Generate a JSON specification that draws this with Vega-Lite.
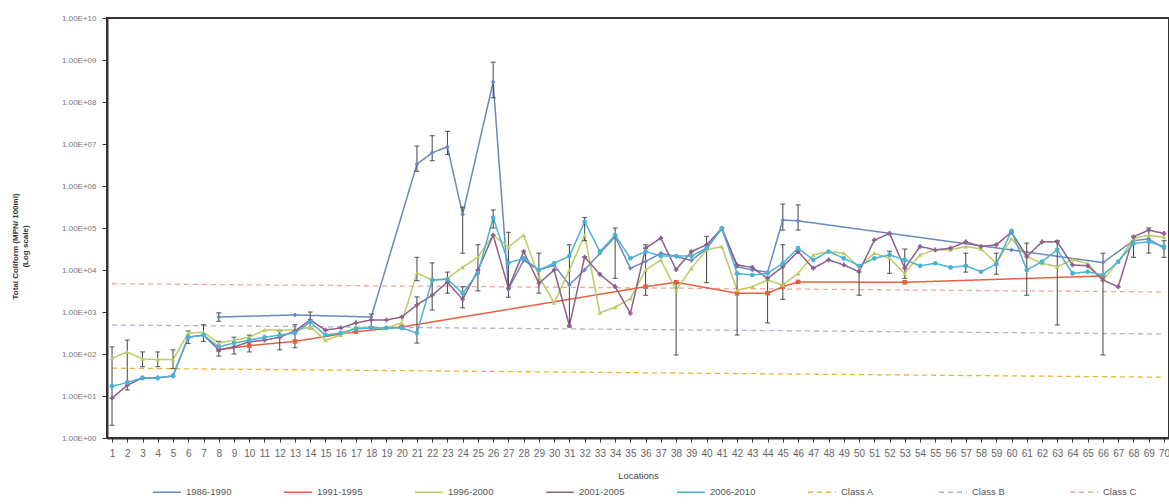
{
"$schema": "https://vega.github.io/schema/vega-lite/v6.json",
"width": 1062, "height": 420,
"autosize": {"type": "none"},
"padding": {"left": 107, "top": 18, "right": 0, "bottom": 66},
"background": "white",
"config": {"view": {"stroke": "#333", "strokeWidth": 2}, "font": "Liberation Sans Narrow, Liberation Sans, sans-serif"},
"datasets": {
"classes": [
{"loc":1,"period":"Class A","tc":46},{"loc":70,"period":"Class A","tc":28},
{"loc":1,"period":"Class B","tc":490},{"loc":70,"period":"Class B","tc":300},
{"loc":1,"period":"Class C","tc":4700},{"loc":70,"period":"Class C","tc":3000}
],
"series": [
{"loc":8,"period":"1986-1990","tc":760,"lo":600,"hi":955},
{"loc":13,"period":"1986-1990","tc":850},
{"loc":18,"period":"1986-1990","tc":760},
{"loc":21,"period":"1986-1990","tc":3300000,"lo":2240000,"hi":8900000},
{"loc":22,"period":"1986-1990","tc":6200000,"lo":4000000,"hi":15800000},
{"loc":23,"period":"1986-1990","tc":8500000,"lo":5600000,"hi":20000000},
{"loc":24,"period":"1986-1990","tc":210000,"lo":25000,"hi":316000},
{"loc":26,"period":"1986-1990","tc":300000000,"lo":126000000,"hi":890000000},
{"loc":27,"period":"1986-1990","tc":3500},
{"loc":28,"period":"1986-1990","tc":17000},
{"loc":29,"period":"1986-1990","tc":10000},
{"loc":30,"period":"1986-1990","tc":13000},
{"loc":31,"period":"1986-1990","tc":4400},
{"loc":32,"period":"1986-1990","tc":10000},
{"loc":33,"period":"1986-1990","tc":25000},
{"loc":34,"period":"1986-1990","tc":62000,"lo":6300,"hi":100000},
{"loc":35,"period":"1986-1990","tc":11000},
{"loc":36,"period":"1986-1990","tc":16000},
{"loc":37,"period":"1986-1990","tc":25000},
{"loc":38,"period":"1986-1990","tc":21000},
{"loc":39,"period":"1986-1990","tc":17000},
{"loc":40,"period":"1986-1990","tc":32000},
{"loc":41,"period":"1986-1990","tc":98000},
{"loc":42,"period":"1986-1990","tc":12000},
{"loc":43,"period":"1986-1990","tc":10000},
{"loc":44,"period":"1986-1990","tc":8900},
{"loc":45,"period":"1986-1990","tc":155000,"lo":89000,"hi":370000},
{"loc":46,"period":"1986-1990","tc":148000,"lo":89000,"hi":355000},
{"loc":60,"period":"1986-1990","tc":30000},
{"loc":66,"period":"1986-1990","tc":15000},
{"loc":68,"period":"1986-1990","tc":50000},
{"loc":69,"period":"1986-1990","tc":55000},
{"loc":70,"period":"1986-1990","tc":33000},

{"loc":8,"period":"1991-1995","tc":126},
{"loc":10,"period":"1991-1995","tc":158},
{"loc":13,"period":"1991-1995","tc":200},
{"loc":17,"period":"1991-1995","tc":340},
{"loc":20,"period":"1991-1995","tc":440},
{"loc":36,"period":"1991-1995","tc":4000},
{"loc":38,"period":"1991-1995","tc":5100},
{"loc":42,"period":"1991-1995","tc":2800},
{"loc":44,"period":"1991-1995","tc":2800},
{"loc":45,"period":"1991-1995","tc":4000},
{"loc":46,"period":"1991-1995","tc":5200},
{"loc":53,"period":"1991-1995","tc":5100},
{"loc":66,"period":"1991-1995","tc":7200,"lo":95,"hi":25000},

{"loc":1,"period":"1996-2000","tc":79},
{"loc":2,"period":"1996-2000","tc":112},
{"loc":3,"period":"1996-2000","tc":76,"lo":50,"hi":112},
{"loc":4,"period":"1996-2000","tc":74,"lo":50,"hi":112},
{"loc":5,"period":"1996-2000","tc":74,"lo":45,"hi":126},
{"loc":6,"period":"1996-2000","tc":316},
{"loc":7,"period":"1996-2000","tc":331},
{"loc":8,"period":"1996-2000","tc":182},
{"loc":9,"period":"1996-2000","tc":214},
{"loc":10,"period":"1996-2000","tc":251},
{"loc":11,"period":"1996-2000","tc":372},
{"loc":12,"period":"1996-2000","tc":372},
{"loc":13,"period":"1996-2000","tc":372},
{"loc":14,"period":"1996-2000","tc":437},
{"loc":15,"period":"1996-2000","tc":214},
{"loc":16,"period":"1996-2000","tc":282},
{"loc":17,"period":"1996-2000","tc":437},
{"loc":18,"period":"1996-2000","tc":417},
{"loc":19,"period":"1996-2000","tc":417},
{"loc":20,"period":"1996-2000","tc":550},
{"loc":21,"period":"1996-2000","tc":8500,"lo":5600,"hi":20000},
{"loc":22,"period":"1996-2000","tc":5750},
{"loc":23,"period":"1996-2000","tc":6300},
{"loc":24,"period":"1996-2000","tc":11700},
{"loc":25,"period":"1996-2000","tc":20400,"lo":3200,"hi":40000},
{"loc":26,"period":"1996-2000","tc":67600},
{"loc":27,"period":"1996-2000","tc":35500},
{"loc":28,"period":"1996-2000","tc":67600},
{"loc":29,"period":"1996-2000","tc":6900},
{"loc":30,"period":"1996-2000","tc":1660},
{"loc":31,"period":"1996-2000","tc":10000},
{"loc":32,"period":"1996-2000","tc":67600},
{"loc":33,"period":"1996-2000","tc":955},
{"loc":34,"period":"1996-2000","tc":1300},
{"loc":35,"period":"1996-2000","tc":2090},
{"loc":36,"period":"1996-2000","tc":10000},
{"loc":37,"period":"1996-2000","tc":17400},
{"loc":38,"period":"1996-2000","tc":3300,"lo":95,"hi":5000},
{"loc":39,"period":"1996-2000","tc":11000},
{"loc":40,"period":"1996-2000","tc":30200},
{"loc":41,"period":"1996-2000","tc":36300},
{"loc":42,"period":"1996-2000","tc":3300,"lo":282,"hi":8000},
{"loc":43,"period":"1996-2000","tc":4000},
{"loc":44,"period":"1996-2000","tc":5750,"lo":550,"hi":6300},
{"loc":45,"period":"1996-2000","tc":4400},
{"loc":46,"period":"1996-2000","tc":8300},
{"loc":47,"period":"1996-2000","tc":22900},
{"loc":48,"period":"1996-2000","tc":27500},
{"loc":49,"period":"1996-2000","tc":25100},
{"loc":50,"period":"1996-2000","tc":12000,"lo":2500,"hi":12600},
{"loc":51,"period":"1996-2000","tc":25100},
{"loc":52,"period":"1996-2000","tc":19000},
{"loc":53,"period":"1996-2000","tc":8300},
{"loc":54,"period":"1996-2000","tc":22900},
{"loc":55,"period":"1996-2000","tc":30200},
{"loc":56,"period":"1996-2000","tc":30200},
{"loc":57,"period":"1996-2000","tc":36300},
{"loc":58,"period":"1996-2000","tc":31600},
{"loc":59,"period":"1996-2000","tc":14500,"lo":7900,"hi":25100},
{"loc":60,"period":"1996-2000","tc":56200},
{"loc":61,"period":"1996-2000","tc":20900},
{"loc":62,"period":"1996-2000","tc":14500},
{"loc":63,"period":"1996-2000","tc":12000},
{"loc":64,"period":"1996-2000","tc":17800},
{"loc":65,"period":"1996-2000","tc":14100},
{"loc":66,"period":"1996-2000","tc":5750},
{"loc":67,"period":"1996-2000","tc":15800},
{"loc":68,"period":"1996-2000","tc":56200,"lo":20000,"hi":63000},
{"loc":69,"period":"1996-2000","tc":67600},
{"loc":70,"period":"1996-2000","tc":60000},

{"loc":1,"period":"2001-2005","tc":8.9,"lo":2,"hi":148},
{"loc":2,"period":"2001-2005","tc":18},
{"loc":3,"period":"2001-2005","tc":27},
{"loc":4,"period":"2001-2005","tc":27},
{"loc":5,"period":"2001-2005","tc":30},
{"loc":6,"period":"2001-2005","tc":251},
{"loc":7,"period":"2001-2005","tc":282,"lo":200,"hi":500},
{"loc":8,"period":"2001-2005","tc":126,"lo":89,"hi":200},
{"loc":9,"period":"2001-2005","tc":148,"lo":100,"hi":251},
{"loc":10,"period":"2001-2005","tc":195,"lo":112,"hi":282},
{"loc":11,"period":"2001-2005","tc":214},
{"loc":12,"period":"2001-2005","tc":251,"lo":126,"hi":355},
{"loc":13,"period":"2001-2005","tc":355,"lo":141,"hi":500},
{"loc":14,"period":"2001-2005","tc":646,"lo":398,"hi":1000},
{"loc":15,"period":"2001-2005","tc":372},
{"loc":16,"period":"2001-2005","tc":417},
{"loc":17,"period":"2001-2005","tc":550},
{"loc":18,"period":"2001-2005","tc":646,"lo":447,"hi":891},
{"loc":19,"period":"2001-2005","tc":646},
{"loc":20,"period":"2001-2005","tc":760},
{"loc":21,"period":"2001-2005","tc":1480,"lo":182,"hi":2290},
{"loc":22,"period":"2001-2005","tc":2500},
{"loc":23,"period":"2001-2005","tc":5130,"lo":2800,"hi":8900},
{"loc":24,"period":"2001-2005","tc":2000,"lo":1260,"hi":4000},
{"loc":25,"period":"2001-2005","tc":10000},
{"loc":26,"period":"2001-2005","tc":67600},
{"loc":27,"period":"2001-2005","tc":3700,"lo":2240,"hi":79000},
{"loc":28,"period":"2001-2005","tc":27500},
{"loc":29,"period":"2001-2005","tc":4800,"lo":2800,"hi":25100},
{"loc":30,"period":"2001-2005","tc":10000},
{"loc":31,"period":"2001-2005","tc":470,"lo":440,"hi":40000},
{"loc":32,"period":"2001-2005","tc":20400},
{"loc":33,"period":"2001-2005","tc":7900},
{"loc":34,"period":"2001-2005","tc":4000},
{"loc":35,"period":"2001-2005","tc":930},
{"loc":36,"period":"2001-2005","tc":33100,"lo":2500,"hi":40000},
{"loc":37,"period":"2001-2005","tc":57500},
{"loc":38,"period":"2001-2005","tc":10200},
{"loc":39,"period":"2001-2005","tc":27500},
{"loc":40,"period":"2001-2005","tc":39800,"lo":5000,"hi":63000},
{"loc":41,"period":"2001-2005","tc":97700},
{"loc":42,"period":"2001-2005","tc":13200},
{"loc":43,"period":"2001-2005","tc":11500},
{"loc":44,"period":"2001-2005","tc":6300},
{"loc":45,"period":"2001-2005","tc":12000,"lo":2000,"hi":40000},
{"loc":46,"period":"2001-2005","tc":27500},
{"loc":47,"period":"2001-2005","tc":11000},
{"loc":48,"period":"2001-2005","tc":17400},
{"loc":49,"period":"2001-2005","tc":13200},
{"loc":50,"period":"2001-2005","tc":9100},
{"loc":51,"period":"2001-2005","tc":51300},
{"loc":52,"period":"2001-2005","tc":74100},
{"loc":53,"period":"2001-2005","tc":11000,"lo":6300,"hi":31600},
{"loc":54,"period":"2001-2005","tc":36300},
{"loc":55,"period":"2001-2005","tc":30200},
{"loc":56,"period":"2001-2005","tc":33100},
{"loc":57,"period":"2001-2005","tc":46800},
{"loc":58,"period":"2001-2005","tc":36300},
{"loc":59,"period":"2001-2005","tc":39800},
{"loc":60,"period":"2001-2005","tc":79400},
{"loc":61,"period":"2001-2005","tc":20900,"lo":2500,"hi":43700},
{"loc":62,"period":"2001-2005","tc":46800},
{"loc":63,"period":"2001-2005","tc":46800,"lo":490,"hi":50000},
{"loc":64,"period":"2001-2005","tc":13200},
{"loc":65,"period":"2001-2005","tc":12600},
{"loc":66,"period":"2001-2005","tc":5750},
{"loc":67,"period":"2001-2005","tc":4000},
{"loc":68,"period":"2001-2005","tc":61700},
{"loc":69,"period":"2001-2005","tc":89100,"lo":25100,"hi":100000},
{"loc":70,"period":"2001-2005","tc":74100},

{"loc":1,"period":"2006-2010","tc":17},
{"loc":2,"period":"2006-2010","tc":21,"lo":14,"hi":214},
{"loc":3,"period":"2006-2010","tc":27},
{"loc":4,"period":"2006-2010","tc":27},
{"loc":5,"period":"2006-2010","tc":30},
{"loc":6,"period":"2006-2010","tc":251,"lo":178,"hi":355},
{"loc":7,"period":"2006-2010","tc":282},
{"loc":8,"period":"2006-2010","tc":148},
{"loc":9,"period":"2006-2010","tc":182},
{"loc":10,"period":"2006-2010","tc":214},
{"loc":11,"period":"2006-2010","tc":251},
{"loc":12,"period":"2006-2010","tc":282},
{"loc":13,"period":"2006-2010","tc":316},
{"loc":14,"period":"2006-2010","tc":575},
{"loc":15,"period":"2006-2010","tc":282},
{"loc":16,"period":"2006-2010","tc":316},
{"loc":17,"period":"2006-2010","tc":398},
{"loc":18,"period":"2006-2010","tc":417},
{"loc":19,"period":"2006-2010","tc":417},
{"loc":20,"period":"2006-2010","tc":417},
{"loc":21,"period":"2006-2010","tc":316},
{"loc":22,"period":"2006-2010","tc":5750,"lo":1120,"hi":14800},
{"loc":23,"period":"2006-2010","tc":6000},
{"loc":24,"period":"2006-2010","tc":2800},
{"loc":25,"period":"2006-2010","tc":8500},
{"loc":26,"period":"2006-2010","tc":174000,"lo":100000,"hi":269000},
{"loc":27,"period":"2006-2010","tc":14800},
{"loc":28,"period":"2006-2010","tc":19000},
{"loc":29,"period":"2006-2010","tc":10000},
{"loc":30,"period":"2006-2010","tc":14500},
{"loc":31,"period":"2006-2010","tc":21400},
{"loc":32,"period":"2006-2010","tc":141000,"lo":50000,"hi":178000},
{"loc":33,"period":"2006-2010","tc":27500},
{"loc":34,"period":"2006-2010","tc":67600},
{"loc":35,"period":"2006-2010","tc":19000},
{"loc":36,"period":"2006-2010","tc":27500},
{"loc":37,"period":"2006-2010","tc":21400},
{"loc":38,"period":"2006-2010","tc":21400},
{"loc":39,"period":"2006-2010","tc":21400},
{"loc":40,"period":"2006-2010","tc":33100},
{"loc":41,"period":"2006-2010","tc":97700},
{"loc":42,"period":"2006-2010","tc":8300},
{"loc":43,"period":"2006-2010","tc":7600},
{"loc":44,"period":"2006-2010","tc":8300},
{"loc":45,"period":"2006-2010","tc":14500},
{"loc":46,"period":"2006-2010","tc":33100},
{"loc":47,"period":"2006-2010","tc":17400},
{"loc":48,"period":"2006-2010","tc":27500},
{"loc":49,"period":"2006-2010","tc":19000},
{"loc":50,"period":"2006-2010","tc":12600},
{"loc":51,"period":"2006-2010","tc":19000},
{"loc":52,"period":"2006-2010","tc":22900,"lo":8300,"hi":28000},
{"loc":53,"period":"2006-2010","tc":17400},
{"loc":54,"period":"2006-2010","tc":12600},
{"loc":55,"period":"2006-2010","tc":14500},
{"loc":56,"period":"2006-2010","tc":11500},
{"loc":57,"period":"2006-2010","tc":12600,"lo":8900,"hi":25100},
{"loc":58,"period":"2006-2010","tc":9100},
{"loc":59,"period":"2006-2010","tc":13800},
{"loc":60,"period":"2006-2010","tc":85100},
{"loc":61,"period":"2006-2010","tc":10000},
{"loc":62,"period":"2006-2010","tc":15800},
{"loc":63,"period":"2006-2010","tc":30200},
{"loc":64,"period":"2006-2010","tc":8300},
{"loc":65,"period":"2006-2010","tc":9100},
{"loc":66,"period":"2006-2010","tc":7600},
{"loc":67,"period":"2006-2010","tc":15800},
{"loc":68,"period":"2006-2010","tc":42700},
{"loc":69,"period":"2006-2010","tc":46800},
{"loc":70,"period":"2006-2010","tc":36300,"lo":20000,"hi":50000}
]
},
"encoding": {
"x": {"field": "loc", "type": "ordinal",
 "scale": {"type": "point", "padding": 0.33, "domain": [1,2,3,4,5,6,7,8,9,10,11,12,13,14,15,16,17,18,19,20,21,22,23,24,25,26,27,28,29,30,31,32,33,34,35,36,37,38,39,40,41,42,43,44,45,46,47,48,49,50,51,52,53,54,55,56,57,58,59,60,61,62,63,64,65,66,67,68,69,70]},
 "axis": {"title": "Locations", "labelAngle": 0, "labelFontSize": 10, "labelColor": "#666", "labelPadding": 6, "labelOverlap": false, "tickSize": 4, "tickColor": "#333", "domainColor": "#333", "domainWidth": 2, "titleFontSize": 9.5, "titleColor": "#444", "titleFontWeight": "normal", "titlePadding": 12}
}
},
"layer": [
{"data": {"name": "classes"},
 "mark": {"type": "line", "strokeWidth": 1.3},
 "encoding": {
  "y": {"field": "tc", "type": "quantitative", "scale": {"type": "log", "domain": [1, 10000000000], "nice": false},
   "axis": {"values": [1,10,100,1000,10000,100000,1000000,10000000,100000000,1000000000,10000000000],
    "labelExpr": "'1.00E+' + (round(log(datum.value)/LN10) < 10 ? '0' : '') + round(log(datum.value)/LN10)",
    "grid": false, "tickSize": 5, "labelPadding": 6, "labelFontSize": 8, "labelColor": "#777", "tickColor": "#333", "domainColor": "#333", "domainWidth": 2,
    "title": ["Total Coliform (MPN/ 100ml)", "(Log scale)"], "titleFontSize": 8, "titleColor": "#333", "titleFontWeight": "bold", "titleX": -96, "titleY": 228, "titleBaseline": "top", "titleAngle": -90}},
  "color": {"field": "period", "type": "nominal",
   "scale": {"domain": ["1986-1990","1991-1995","1996-2000","2001-2005","2006-2010","Class A","Class B","Class C"],
    "range": ["#6A88C0","#E8603F","#BDCB63","#8E5E8C","#4AB2D4","#F2B030","#A9B3DA","#F2A898"]},
   "legend": {"orient": "none", "legendX": 45, "legendY": 459, "direction": "horizontal", "columns": 8, "title": null,
    "symbolType": "stroke", "symbolSize": 784, "symbolStrokeWidth": 1.5, "labelFontSize": 9.5, "labelColor": "#555", "labelOffset": 4, "columnPadding": 49, "gridAlign": "all"}},
  "strokeDash": {"field": "period", "type": "nominal",
   "scale": {"domain": ["1986-1990","1991-1995","1996-2000","2001-2005","2006-2010","Class A","Class B","Class C"],
    "range": [[1,0],[1,0],[1,0],[1,0],[1,0],[5,4],[5,4],[5,4]]}}
 }},
{"data": {"name": "series"},
 "mark": {"type": "line", "strokeWidth": 1.5},
 "encoding": {
  "y": {"field": "tc", "type": "quantitative"},
  "color": {"field": "period", "type": "nominal"},
  "strokeDash": {"field": "period", "type": "nominal"}
 }},
{"data": {"name": "series"},
 "transform": [{"filter": "isValid(datum.lo)"}],
 "mark": {"type": "rule", "color": "#444", "strokeWidth": 1},
 "encoding": {"y": {"field": "lo", "type": "quantitative"}, "y2": {"field": "hi"}}},
{"data": {"name": "series"},
 "transform": [{"filter": "isValid(datum.lo)"}],
 "mark": {"type": "tick", "color": "#333", "size": 5, "thickness": 1.2},
 "encoding": {"y": {"field": "lo", "type": "quantitative"}}},
{"data": {"name": "series"},
 "transform": [{"filter": "isValid(datum.hi)"}],
 "mark": {"type": "tick", "color": "#333", "size": 5, "thickness": 1.2},
 "encoding": {"y": {"field": "hi", "type": "quantitative"}}},
{"data": {"name": "series"},
 "mark": {"type": "point", "filled": true, "size": 22, "opacity": 1},
 "encoding": {
  "y": {"field": "tc", "type": "quantitative"},
  "fill": {"field": "period", "type": "nominal", "scale": {"domain": ["1986-1990","1991-1995","1996-2000","2001-2005","2006-2010"], "range": ["#6A88C0","#E8603F","#BDCB63","#8E5E8C","#4AB2D4"]}, "legend": null},
  "shape": {"field": "period", "type": "nominal", "scale": {"domain": ["1986-1990","1991-1995","1996-2000","2001-2005","2006-2010"], "range": ["diamond","square","triangle-up","cross","circle"]}, "legend": null}
 }}
]
}
